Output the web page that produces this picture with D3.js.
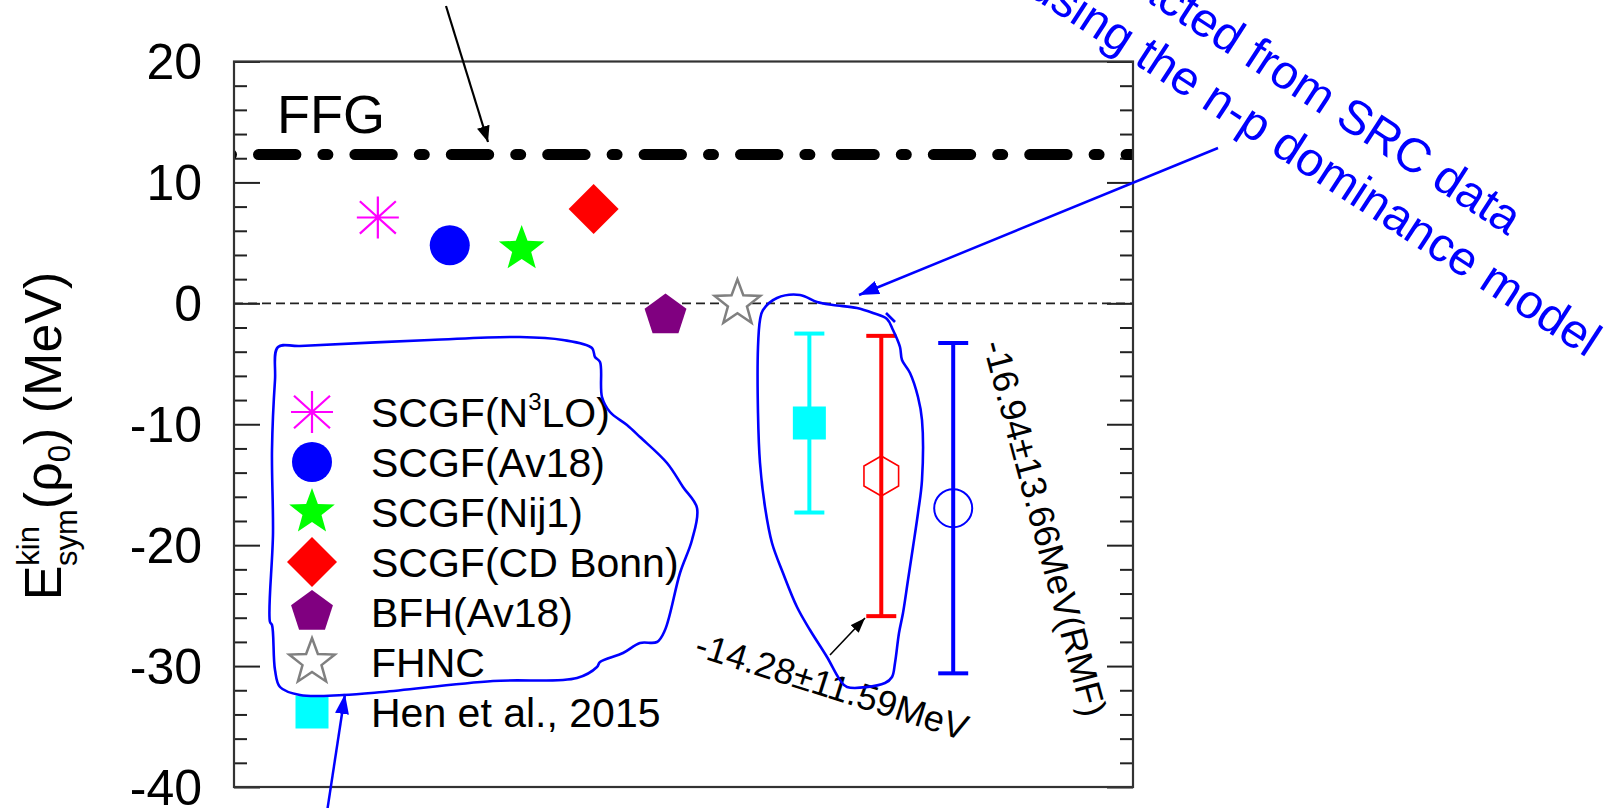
<!DOCTYPE html>
<html><head><meta charset="utf-8">
<script src="https://cdn.jsdelivr.net/npm/d3@7"></script>
<style>
body{margin:0;background:#fff}
svg{display:block}
text{font-family:"Liberation Sans",Arial,Helvetica,sans-serif}
</style>
</head><body>
<svg id="chart" width="1608" height="808"></svg>
<script>
// ---------------- data ----------------
const modelNames  = ["SCGF(N3LO)", "SCGF(Av18)", "SCGF(Nij1)", "SCGF(CD Bonn)", "BFH(Av18)", "FHNC"];
const modelPos    = [2, 3, 4, 5, 6, 7];
const modelValues = [7.1, 4.8, 4.5, 7.8, -1.0, 0.0];
const modelColors = ["#ff00ff", "#0000ff", "#00ff00", "#ff0000", "#800080", "#808080"];
const modelShapes = ["asterisk", "circle", "star", "diamond", "pentagon", "openstar"];

const expNames  = ["Hen et al., 2015", "n-p dominance (SRC)", "RMF"];
const expPos    = [8, 9, 10];
const expValues = [-9.9, -14.28, -16.94];
const expErrors = [7.4, 11.59, 13.66];
const expColors = ["#00ffff", "#ff0000", "#0000ff"];
const expShapes = ["square", "hexagon", "opencircle"];

const ffgValue = 12.3;
const yMajorTicks = [20, 10, 0, -10, -20, -30, -40];
const yMinorTicks = [18, 16, 14, 12, 8, 6, 4, 2, -2, -4, -6, -8, -12, -14, -16, -18,
                     -22, -24, -26, -28, -32, -34, -36, -38];

const legendNames = ["SCGF(N3LO)", "SCGF(Av18)", "SCGF(Nij1)", "SCGF(CD Bonn)", "BFH(Av18)", "FHNC", "Hen et al., 2015"];

// ---------------- layout ----------------
const W = 1608, H = 808;
const plot = {left: 234, right: 1133, top: 61.5, bottom: 787};
const svg = d3.select("#chart");
svg.append("rect").attr("width", W).attr("height", H).attr("fill", "#fff");

const x = d3.scaleLinear().domain([0, 12.5]).range([plot.left, plot.right]);
const y = d3.scaleLinear().domain([-40, 20]).range([plot.bottom, plot.top]);

const defs = svg.append("defs");
defs.append("clipPath").attr("id", "clip").append("rect")
  .attr("x", plot.left).attr("y", plot.top)
  .attr("width", plot.right - plot.left).attr("height", plot.bottom - plot.top);

function arrowMarker(id, color, len, wid) {
  defs.append("marker").attr("id", id)
    .attr("markerUnits", "userSpaceOnUse")
    .attr("viewBox", `0 0 ${len} ${wid}`)
    .attr("refX", len).attr("refY", wid / 2)
    .attr("markerWidth", len).attr("markerHeight", wid)
    .attr("orient", "auto")
    .append("path").attr("d", `M0,0L${len},${wid/2}L0,${wid}Z`).attr("fill", color);
}
arrowMarker("ahBlack", "#000", 16, 13);
arrowMarker("ahBlackS", "#000", 15, 11);
arrowMarker("ahBlue", "#0000ff", 20, 14);

// ---------------- shapes ----------------
function shapePath(kind) {
  const p = d3.path();
  if (kind === "asterisk") {
    const R = 21, d = 18;
    p.moveTo(0, -R); p.lineTo(0, R);
    p.moveTo(-R, 0); p.lineTo(R, 0);
    p.moveTo(-d, -d * 0.9); p.lineTo(d, d * 0.9);
    p.moveTo(-d, d * 0.9); p.lineTo(d, -d * 0.9);
  } else if (kind === "circle") {
    p.arc(0, 0, 20, 0, 2 * Math.PI);
  } else if (kind === "opencircle") {
    p.arc(0, 0, 19, 0, 2 * Math.PI);
  } else if (kind === "star" || kind === "openstar") {
    const Ro = 24, Ri = 10;
    for (let i = 0; i < 10; i++) {
      const r = i % 2 ? Ri : Ro;
      const a = -Math.PI / 2 + i * Math.PI / 5;
      i ? p.lineTo(r * Math.cos(a), r * Math.sin(a)) : p.moveTo(r * Math.cos(a), r * Math.sin(a));
    }
    p.closePath();
  } else if (kind === "diamond") {
    const h = 25;
    p.moveTo(0, -h); p.lineTo(h, 0); p.lineTo(0, h); p.lineTo(-h, 0); p.closePath();
  } else if (kind === "pentagon") {
    const R = 22;
    for (let i = 0; i < 5; i++) {
      const a = -Math.PI / 2 + i * 2 * Math.PI / 5;
      i ? p.lineTo(R * Math.cos(a), R * Math.sin(a)) : p.moveTo(R * Math.cos(a), R * Math.sin(a));
    }
    p.closePath();
  } else if (kind === "square") {
    p.rect(-16.5, -16.5, 33, 33);
  } else if (kind === "hexagon") {
    const R = 20;
    for (let i = 0; i < 6; i++) {
      const a = -Math.PI / 2 + i * Math.PI / 3;
      i ? p.lineTo(R * Math.cos(a), R * Math.sin(a)) : p.moveTo(R * Math.cos(a), R * Math.sin(a));
    }
    p.closePath();
  }
  return p.toString();
}
function styleShape(sel, kind, color) {
  if (kind === "asterisk") sel.attr("fill", "none").attr("stroke", color).attr("stroke-width", 2.2);
  else if (kind === "openstar") sel.attr("fill", "#fff").attr("stroke", color).attr("stroke-width", 2.5);
  else if (kind === "opencircle") sel.attr("fill", "none").attr("stroke", color).attr("stroke-width", 2);
  else if (kind === "hexagon") sel.attr("fill", "none").attr("stroke", color).attr("stroke-width", 1.6);
  else sel.attr("fill", color).attr("stroke", "none");
}

// ---------------- axes / ticks ----------------
function tickAxis(axisFn, values, size, withLabels, xpos) {
  const ax = axisFn(y).tickValues(values).tickSizeInner(size).tickSizeOuter(0);
  if (withLabels) ax.tickPadding(32).tickFormat(d => String(d));
  else ax.tickFormat("");
  const g = svg.append("g").attr("transform", `translate(${xpos},0)`).call(ax);
  g.select(".domain").remove();
  g.selectAll(".tick line").attr("stroke", "#222").attr("stroke-width", 2);
  return g;
}
const gL = tickAxis(d3.axisLeft, yMajorTicks, -26, true, plot.left);
gL.selectAll(".tick text").attr("font-size", 50).attr("fill", "#000")
  .attr("font-family", "'Liberation Sans',Arial,sans-serif").attr("dy", "0.34em");
tickAxis(d3.axisLeft, yMinorTicks, -13, false, plot.left);
tickAxis(d3.axisRight, yMajorTicks, -26, false, plot.right);
tickAxis(d3.axisRight, yMinorTicks, -13, false, plot.right);

// y-axis title
const yt = svg.append("text").attr("transform", "translate(61,436) rotate(-90)")
  .attr("text-anchor", "middle").attr("font-size", 52).attr("fill", "#000");
yt.append("tspan").text("E");
yt.append("tspan").attr("font-size", 31).attr("dy", -22).text("kin");
yt.append("tspan").attr("font-size", 31).attr("dx", -40).attr("dy", 38).text("sym");
yt.append("tspan").attr("dy", -16).text("(ρ");
yt.append("tspan").attr("font-size", 31).attr("dy", 9).text("0");
yt.append("tspan").attr("dy", -9).text(") (MeV)");

// ---------------- reference lines ----------------
const plotG = svg.append("g").attr("clip-path", "url(#clip)");
plotG.append("line")
  .attr("x1", x(0)).attr("x2", x(12.5)).attr("y1", y(0)).attr("y2", y(0))
  .attr("stroke", "#222").attr("stroke-width", 1.6).attr("stroke-dasharray", "9,5");
plotG.append("line")
  .attr("x1", x(0) - 34).attr("x2", x(12.5)).attr("y1", y(ffgValue)).attr("y2", y(ffgValue))
  .attr("stroke", "#000").attr("stroke-width", 11).attr("stroke-linecap", "round")
  .attr("stroke-dasharray", "37.4,27,5,27").attr("stroke-dashoffset", 37.9);
svg.append("text").attr("x", 277).attr("y", 133).attr("font-size", 54).attr("fill", "#000").text("FFG");

// ---------------- model points ----------------
modelValues.forEach((v, i) => {
  svg.append("path").attr("d", shapePath(modelShapes[i]))
    .attr("transform", `translate(${x(modelPos[i])},${y(v)})`)
    .call(styleShape, modelShapes[i], modelColors[i]);
});

// ---------------- experimental / extracted points with error bars ----------------
expValues.forEach((v, i) => {
  const cx = x(expPos[i]), lo = y(v - expErrors[i]), hi = y(v + expErrors[i]);
  const g = svg.append("g").attr("stroke", expColors[i]).attr("stroke-width", 4);
  g.append("line").attr("x1", cx).attr("x2", cx).attr("y1", hi).attr("y2", lo);
  g.append("line").attr("x1", cx - 15).attr("x2", cx + 15).attr("y1", hi).attr("y2", hi);
  g.append("line").attr("x1", cx - 15).attr("x2", cx + 15).attr("y1", lo).attr("y2", lo);
  svg.append("path").attr("d", shapePath(expShapes[i]))
    .attr("transform", `translate(${cx},${y(v)})`)
    .call(styleShape, expShapes[i], expColors[i]);
});

// value annotations
svg.append("text").attr("transform", "translate(832,686) rotate(17.5)")
  .attr("text-anchor", "middle").attr("dy", "0.35em").attr("font-size", 36).attr("fill", "#000")
  .text(`${expValues[1]}±${expErrors[1]}MeV`);
svg.append("text").attr("transform", "translate(1045,528) rotate(75)")
  .attr("text-anchor", "middle").attr("dy", "0.35em").attr("font-size", 36).attr("fill", "#000")
  .text(`${expValues[2]}±${expErrors[2]}MeV(RMF)`);

// ---------------- legend ----------------
const legShapes = modelShapes.concat(["square"]);
const legColors = modelColors.concat([expColors[0]]);
legendNames.forEach((name, i) => {
  const cy = 412 + i * 50;
  svg.append("path").attr("d", shapePath(legShapes[i]))
    .attr("transform", `translate(312,${cy})`)
    .call(styleShape, legShapes[i], legColors[i]);
  const t = svg.append("text").attr("x", 371).attr("y", cy + 14.5).attr("font-size", 41).attr("fill", "#000");
  if (name === "SCGF(N3LO)") {
    t.append("tspan").text("SCGF(N");
    t.append("tspan").attr("font-size", 24).attr("dy", -17).text("3");
    t.append("tspan").attr("dy", 17).text("LO)");
  } else t.text(name);
});

// ---------------- frame ----------------
svg.append("rect").attr("x", plot.left).attr("y", plot.top)
  .attr("width", plot.right - plot.left).attr("height", plot.bottom - plot.top)
  .attr("fill", "none").attr("stroke", "#333").attr("stroke-width", 2.2);

// ---------------- hand-drawn annotations ----------------
const legendLoop = [[278,347],[300,346],[430,340],[520,337],[563,340],[592,348],[595,357],[600,362],
  [602,397],[610,412],[627,425],[640,437],[667,463],[683,487],[697,508],[692,540],[680,573],
  [665,630],[657,642],[640,643],[623,653],[600,662],[597,667],[577,678],[493,681],[383,692],
  [343,695],[300,695],[280,687],[275,670],[272,625],[270,622],[273,533],[272,450],[275,380]];
const errLoop = [[763,310],[777,298],[800,295],[817,302],[833,305],[857,308],[873,313],[887,319],
  [893,330],[900,347],[902,360],[910,373],[918,397],[922,420],[922,480],[918,513],[913,547],
  [908,580],[903,613],[899,633],[895,663],[892,677],[885,683],[847,687],[840,680],[827,657],
  [810,630],[797,607],[783,573],[772,543],[765,507],[760,463],[758,413],[758,347],[760,320]];
const loopLine = d3.line().curve(d3.curveCatmullRomClosed.alpha(0.5));
svg.append("path").attr("d", loopLine(legendLoop)).attr("fill", "none")
  .attr("stroke", "#0000ff").attr("stroke-width", 2.6);
svg.append("path").attr("d", loopLine(errLoop)).attr("fill", "none")
  .attr("stroke", "#0000ff").attr("stroke-width", 2.6);
svg.append("path").attr("d", "M886,313L895,322").attr("stroke", "#0000ff").attr("stroke-width", 2.6);

// arrows
svg.append("line").attr("x1", 446).attr("y1", 6).attr("x2", 488).attr("y2", 142)
  .attr("stroke", "#000").attr("stroke-width", 2.2).attr("marker-end", "url(#ahBlack)");
svg.append("line").attr("x1", 830).attr("y1", 655).attr("x2", 865).attr("y2", 618)
  .attr("stroke", "#000").attr("stroke-width", 1.6).attr("marker-end", "url(#ahBlackS)");
svg.append("line").attr("x1", 1218).attr("y1", 148).attr("x2", 859).attr("y2", 295)
  .attr("stroke", "#0000ff").attr("stroke-width", 2.5).attr("marker-end", "url(#ahBlue)");
svg.append("line").attr("x1", 327).attr("y1", 812).attr("x2", 345).attr("y2", 694)
  .attr("stroke", "#0000ff").attr("stroke-width", 2.5).attr("marker-end", "url(#ahBlue)");

// blue rotated caption (cut by the top edge, as in the original)
svg.append("text").attr("transform", "translate(1508,236) rotate(33)")
  .attr("text-anchor", "end").attr("font-size", 48).attr("fill", "#0000ff")
  .text("extracted from SRC data");
svg.append("text").attr("transform", "translate(1587,358) rotate(33)")
  .attr("text-anchor", "end").attr("font-size", 48).attr("fill", "#0000ff")
  .text("using the n-p dominance model");
</script>
</body></html>
